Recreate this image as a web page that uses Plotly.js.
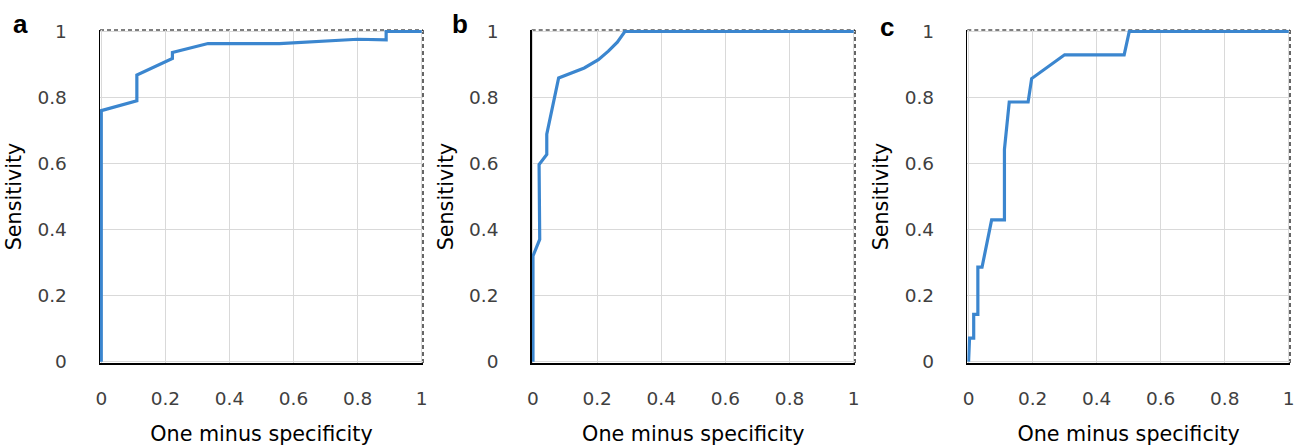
<!DOCTYPE html>
<html><head><meta charset="utf-8">
<script src="https://cdn.plot.ly/plotly-3.0.1.min.js"></script>
<style>html,body{margin:0;padding:0;background:#fff}#chart{width:1299px;height:446px}</style>
</head><body><div id="chart"></div>
<script>
const panelLabels = ['a', 'b', 'c'];
const fprA = [0, 0, 0.111, 0.111, 0.222, 0.222, 0.333, 0.556, 0.80, 0.889, 0.889, 1];
const tprA = [0, 0.76, 0.79, 0.868, 0.918, 0.936, 0.963, 0.963, 0.976, 0.974, 1, 1];
const fprB = [0, 0, 0.021, 0.019, 0.043, 0.043, 0.080, 0.160, 0.204, 0.235, 0.263, 0.287, 1];
const tprB = [0, 0.32, 0.37, 0.597, 0.627, 0.689, 0.859, 0.889, 0.914, 0.94, 0.967, 1, 1];
const fprC = [0, 0.003, 0.016, 0.016, 0.029, 0.029, 0.042, 0.072, 0.112, 0.112, 0.127, 0.186, 0.197, 0.300, 0.486, 0.502, 1];
const tprC = [0, 0.071, 0.071, 0.143, 0.143, 0.286, 0.286, 0.429, 0.429, 0.643, 0.786, 0.786, 0.857, 0.929, 0.929, 1, 1];
const tickVals = [0, 0.2, 0.4, 0.6, 0.8, 1];
const tickText = ['0', '0.2', '0.4', '0.6', '0.8', '1'];
const xTitle = 'One minus specificity';
const yTitle = 'Sensitivity';

const series = [[fprA, tprA], [fprB, tprB], [fprC, tprC]];
const W = 1190, H = 333, L = 100, T = 30;
const xDomains = [[0, 323 / W], [431.7 / W, 755 / W], [867.3 / W, 1]];
const letterPos = [[20, 24], [460, 24], [887, 27]];
const tickFont = {family: 'DejaVu Sans, sans-serif', size: 18.5, color: '#404040'};
const titleFont = {family: 'DejaVu Sans, sans-serif', size: 20.7, color: '#000'};

const data = series.map((s, i) => ({
  x: s[0], y: s[1], type: 'scatter', mode: 'lines',
  xaxis: i === 0 ? 'x' : 'x' + (i + 1), yaxis: i === 0 ? 'y' : 'y' + (i + 1),
  line: {color: '#3b86cf', width: 3.2}, hoverinfo: 'skip', showlegend: false
}));

const layout = {
  width: 1299, height: 446,
  margin: {l: L, r: 9, t: T, b: 83},
  paper_bgcolor: '#fff', plot_bgcolor: '#fff',
  showlegend: false, shapes: [], annotations: []
};
for (let i = 0; i < 3; i++) {
  const sx = i === 0 ? '' : String(i + 1);
  layout['xaxis' + sx] = {
    domain: xDomains[i], range: [-0.004, 1.004], anchor: 'y' + sx,
    tickvals: tickVals, ticktext: tickText, tickfont: tickFont,
    ticks: 'outside', ticklen: 18, tickcolor: 'rgba(0,0,0,0)',
    showgrid: true, gridcolor: '#d9d9d9', gridwidth: 1, zeroline: false,
    showline: true, linecolor: '#000', linewidth: 1.5,
    title: {text: xTitle, font: titleFont, standoff: 24}, fixedrange: true
  };
  layout['yaxis' + sx] = {
    domain: [0, 1], range: [-0.004, 1.004], anchor: 'x' + sx,
    tickvals: tickVals, ticktext: tickText, tickfont: tickFont,
    ticks: 'outside', ticklen: 28, tickcolor: 'rgba(0,0,0,0)',
    showgrid: true, gridcolor: '#d9d9d9', gridwidth: 1, zeroline: false,
    showline: true, linecolor: '#000', linewidth: 1.5,
    title: {text: yTitle, font: titleFont, standoff: 10}, fixedrange: true
  };
  const xr = (i === 0 ? 'x' : 'x' + (i + 1)) + ' domain';
  const yr = (i === 0 ? 'y' : 'y' + (i + 1)) + ' domain';
  layout.shapes.push({type: 'line', xref: xr, yref: yr, x0: 0, x1: 1, y0: 1, y1: 1,
    line: {color: '#000', width: 1.2, dash: '4px,3px'}, layer: 'below'});
  layout.shapes.push({type: 'line', xref: xr, yref: yr, x0: 1, x1: 1, y0: 0, y1: 1,
    line: {color: '#000', width: 1.2, dash: '4px,3px'}, layer: 'below'});
  layout.annotations.push({
    text: '<b>' + panelLabels[i] + '</b>', xref: 'paper', yref: 'paper',
    x: (letterPos[i][0] - L) / W, y: (T + H - letterPos[i][1]) / H,
    xanchor: 'center', yanchor: 'middle', showarrow: false,
    font: {family: 'Liberation Sans, Arial, sans-serif', size: 26, color: '#000'}
  });
}
Plotly.newPlot('chart', data, layout, {displayModeBar: false, staticPlot: true});
</script></body></html>
